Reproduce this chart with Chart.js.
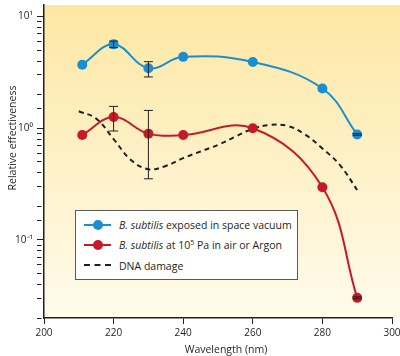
<!DOCTYPE html>
<html>
<head>
<meta charset="utf-8">
<script src="https://cdn.jsdelivr.net/npm/chart.js@4.4.0/dist/chart.umd.min.js"></script>
<style>
  body { margin: 0; background: #fff; }
  #wrap { position: relative; width: 400px; height: 356px; font-family: "Open Sans", sans-serif; color: #231f20; }
  #ytitle { position: absolute; left: -68px; top: 131px; width: 160px; text-align: center; font-size: 10.5px; line-height: 14px; transform: rotate(-90deg); }
  #xtitle { position: absolute; left: 146px; top: 342px; width: 160px; text-align: center; font-size: 10.5px; line-height: 14px; }
  #legend { position: absolute; left: 75px; top: 210px; width: 221px; height: 68px; background: #fff; border: 1px solid #58595b; font-size: 10.5px; }
  .row { position: absolute; left: 0; height: 16px; width: 100%; }
  .row .mk { position: absolute; left: 8px; top: 7px; width: 27px; height: 2px; }
  .row .dot { position: absolute; left: 17px; top: 3px; width: 10px; height: 10px; border-radius: 50%; }
  .row .txt { position: absolute; left: 43px; top: 0; line-height: 16px; white-space: nowrap; }
  .row sup { font-size: 7px; line-height: 0; }
</style>
</head>
<body>
<div id="wrap">
  <canvas id="chart" width="400" height="356"></canvas>
  <div id="ytitle">Relative effectiveness</div>
  <div id="xtitle">Wavelength (nm)</div>
  <div id="legend">
    <div class="row" style="top:6px"><span class="mk" style="background:#1b8fce"></span><span class="dot" style="background:#1b8fce"></span><span class="txt"><i>B. subtilis</i> exposed in space vacuum</span></div>
    <div class="row" style="top:26px"><span class="mk" style="background:#c61a2a"></span><span class="dot" style="background:#c61a2a"></span><span class="txt"><i>B. subtilis</i> at 10<sup>5</sup> Pa in air or Argon</span></div>
    <div class="row" style="top:47px"><span class="mk" style="height:0;border-top:2px dashed #231f20;top:6px"></span><span class="txt">DNA damage</span></div>
  </div>
</div>
<script>
// measured points (nm)
const wavelengths = [211, 220, 230, 240, 260, 280, 290];
const vacuumValues = [3.71, 5.64, 3.45, 4.36, 3.92, 2.27, 0.88];
const airValues = [0.87, 1.26, 0.895, 0.87, 1.0, 0.296, 0.0303];

// error bars (null = none)
const vacuumErrLow  = [null, 5.27, 2.88, null, null, null, 0.865];
const vacuumErrHigh = [null, 6.03, 3.95, null, null, null, 0.895];
const airErrLow  = [null, 0.945, 0.353, null, null, null, 0.0297];
const airErrHigh = [null, 1.57, 1.445, null, null, null, 0.0309];

// DNA damage action spectrum
const dnaWavelengths = [210, 215, 220, 225, 230, 235, 240, 245, 250, 255, 260, 265, 270, 275, 280, 285, 290];
const dnaValues = [1.42, 1.22, 0.80, 0.52, 0.43, 0.46, 0.54, 0.62, 0.71, 0.84, 0.99, 1.07, 1.05, 0.88, 0.66, 0.47, 0.28];

const xTicks = [200, 220, 240, 260, 280, 300];

const toPoints = (xs, ys) => xs.map((x, i) => ({ x: x, y: ys[i] }));
const sup = { '0': '⁰', '1': '¹', '-': '⁻', '2': '²' };
const isDecade = v => { const e = Math.log10(v); return Math.abs(e - Math.round(e)) < 1e-6; };

const axisColor = '#231f20';

const bgPlugin = {
  id: 'bg',
  beforeDraw(chart) {
    const { ctx, chartArea } = chart;
    const g = ctx.createLinearGradient(0, chartArea.top, 0, chartArea.bottom);
    g.addColorStop(0, '#fde7a3');
    g.addColorStop(1, '#fffbec');
    ctx.save();
    ctx.fillStyle = g;
    ctx.fillRect(chartArea.left, chartArea.top, chart.width - chartArea.left, chartArea.bottom - chartArea.top);
    ctx.restore();
  }
};

const errorBarPlugin = {
  id: 'errorBars',
  afterDatasetsDraw(chart) {
    const { ctx, scales } = chart;
    const sets = [[vacuumErrLow, vacuumErrHigh], [airErrLow, airErrHigh]];
    ctx.save();
    ctx.strokeStyle = axisColor;
    ctx.lineWidth = 1;
    sets.forEach(([lo, hi]) => {
      wavelengths.forEach((w, i) => {
        if (lo[i] == null) return;
        const x = scales.x.getPixelForValue(w);
        const y1 = scales.y.getPixelForValue(lo[i]);
        const y2 = scales.y.getPixelForValue(hi[i]);
        ctx.beginPath();
        ctx.moveTo(x, y1); ctx.lineTo(x, y2);
        ctx.moveTo(x - 4.5, y1); ctx.lineTo(x + 4.5, y1);
        ctx.moveTo(x - 4.5, y2); ctx.lineTo(x + 4.5, y2);
        ctx.stroke();
      });
    });
    ctx.restore();
  }
};

new Chart(document.getElementById('chart'), {
  type: 'line',
  data: {
    datasets: [
      {
        label: 'B. subtilis exposed in space vacuum',
        data: toPoints(wavelengths, vacuumValues),
        borderColor: '#1b8fce',
        backgroundColor: '#1b8fce',
        borderWidth: 2,
        pointRadius: 5,
        pointBorderWidth: 0,
        tension: 0.4
      },
      {
        label: 'B. subtilis at 10^5 Pa in air or Argon',
        data: toPoints(wavelengths, airValues),
        borderColor: '#c61a2a',
        backgroundColor: '#c61a2a',
        borderWidth: 2,
        pointRadius: 5,
        pointBorderWidth: 0,
        tension: 0.4
      },
      {
        label: 'DNA damage',
        data: toPoints(dnaWavelengths, dnaValues),
        borderColor: axisColor,
        borderWidth: 2,
        borderDash: [5, 4],
        pointRadius: 0,
        tension: 0.4
      }
    ]
  },
  options: {
    responsive: false,
    animation: false,
    devicePixelRatio: 1,
    layout: { padding: { left: 0, top: 0, right: 8, bottom: 0 } },
    plugins: { legend: { display: false }, tooltip: { enabled: false } },
    scales: {
      x: {
        type: 'linear',
        min: 200,
        max: 300,
        afterFit: s => { s.height = 38; s.paddingLeft = 0; s.paddingRight = 0; },
        afterBuildTicks: s => { s.ticks = xTicks.map(v => ({ value: v })); },
        border: { color: axisColor, width: 1.5 },
        grid: { drawOnChartArea: false, tickLength: 6, tickColor: axisColor, tickWidth: 1 },
        ticks: { color: axisColor, font: { family: 'Open Sans', size: 10 }, padding: 3, maxRotation: 0 }
      },
      y: {
        type: 'logarithmic',
        min: 0.02,
        max: 12.7,
        afterFit: s => { s.width = 44; s.paddingTop = 0; s.paddingBottom = 0; },
        border: { color: axisColor, width: 1.5 },
        grid: {
          drawOnChartArea: false,
          tickLength: 7,
          tickWidth: 1,
          // minor ticks shorter than decades
          tickBorderDash: c => (c.tick && isDecade(c.tick.value)) ? [] : [4.5, 50],
          tickColor: c => (c.tick && c.tick.value > 10) ? 'rgba(0,0,0,0)' : axisColor
        },
        ticks: {
          autoSkip: false,
          color: axisColor,
          font: { family: 'Open Sans', size: 10 },
          padding: 4,
          callback: v => {
            if (!isDecade(v)) return '';
            return '10' + String(Math.round(Math.log10(v))).split('').map(ch => sup[ch]).join('');
          }
        }
      }
    }
  },
  plugins: [bgPlugin, errorBarPlugin]
});
</script>
</body>
</html>
